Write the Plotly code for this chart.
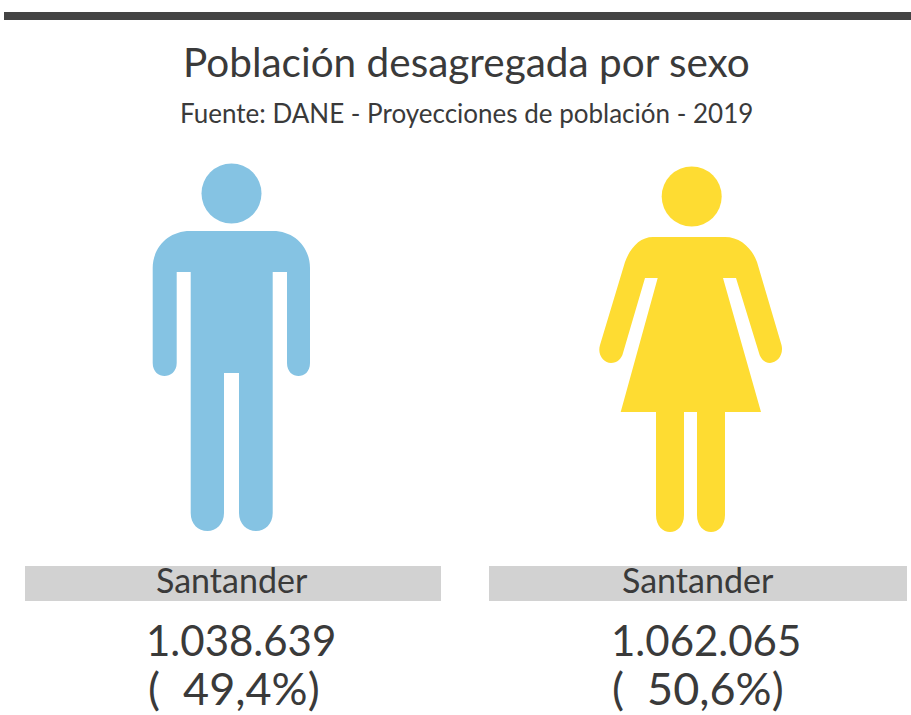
import plotly.graph_objects as go

# --- chart data ---
title = "Población desagregada por sexo"
subtitle = "Fuente: DANE - Proyecciones de población - 2019"
region = ["Santander", "Santander"]
population = [1038639, 1062065]
percent = [49.4, 50.6]

# --- styling ---
FONT = "Lato"
INK = "#3a3a3a"
BLUE = "#85c3e3"
YELLOW = "#fedc32"
GREY = "#d2d2d2"

man_path = (
    "M 190 231 L 273 231 C 295 231 310 248 310 268 L 310 363 "
    "C 310 372 304 376 298.5 376 C 293 376 287 372 287 363 L 287 272 L 272.7 272 "
    "L 272.7 513 C 272.7 524 265 531 256 531 C 247 531 239 524 239 513 L 239 373 L 224 373 "
    "L 224 513 C 224 524 216 531 207.5 531 C 198 531 190.7 524 190.7 513 L 190.7 272 "
    "L 176.7 272 L 176.7 363 C 176.7 372 170 376 164.5 376 C 159 376 152.7 372 152.7 363 "
    "L 152.7 268 C 152.7 248 168 231 190 231 Z"
)
woman_path = (
    "M 653 237 L 725 237 C 740 237 752 248 757 262 L 781.5 345 "
    "C 784 355 777 363 770 363 C 765 363 760.5 359 759 353 L 736 278 L 723 278 "
    "L 761 412 L 725 412 L 725 515 C 725 526 718 532 711 532 C 704 532 697 526 697 515 "
    "L 697 412 L 684 412 L 684 515 C 684 526 677 532 670 532 C 663 532 656 526 656 515 "
    "L 656 412 L 620.7 412 L 657.7 278 L 645 278 L 623 353 "
    "C 621.5 359 617 363 611 363 C 604 363 597 355 600 345 L 625 262 "
    "C 630 248 640 237 653 237 Z"
)

shapes = [
    dict(type="rect", x0=4, x1=911, y0=12, y1=20, fillcolor="#444444", line_width=0),
    dict(type="circle", x0=201.5, x1=261.5, y0=163.5, y1=223.5, fillcolor=BLUE, line_width=0),
    dict(type="path", path=man_path, fillcolor=BLUE, line_width=0),
    dict(type="circle", x0=661.7, x1=721.7, y0=166.5, y1=226.5, fillcolor=YELLOW, line_width=0),
    dict(type="path", path=woman_path, fillcolor=YELLOW, line_width=0),
    dict(type="rect", x0=25, x1=441, y0=566, y1=601, fillcolor=GREY, line_width=0),
    dict(type="rect", x0=489, x1=907, y0=566, y1=601, fillcolor=GREY, line_width=0),
]

def label(x, y, text, size):
    return dict(x=x, y=y, text=text, showarrow=False, xanchor="center", yanchor="middle",
                font=dict(family=FONT, size=size, color=INK))

fmt_pop = [f"{v:,}".replace(",", ".") for v in population]
fmt_pct = [f"(\u00a0\u00a0{p:.1f}%)".replace(".", ",") for p in percent]
centers = [232, 698]
number_x = [241, 706]
pct_x = [234, 698]

annotations = [
    label(466, 61.5, title, 40.5),
    label(466, 113, subtitle, 26),
]
for i in range(2):
    annotations.append(label(centers[i], 579, region[i], 34))
    annotations.append(label(number_x[i], 640, fmt_pop[i], 42))
    annotations.append(label(pct_x[i], 687.5, fmt_pct[i], 45))

fig = go.Figure()
fig.update_layout(
    width=911, height=715, autosize=False,
    margin=dict(l=0, r=0, t=0, b=0),
    paper_bgcolor="white", plot_bgcolor="white",
    xaxis=dict(range=[0, 911], visible=False, fixedrange=True),
    yaxis=dict(range=[715, 0], visible=False, fixedrange=True),
    shapes=shapes, annotations=annotations, showlegend=False,
)
fig.write_html(
    "out.html",
    config={"displayModeBar": False},
    post_script="document.body.style.margin='0';document.documentElement.style.overflow='hidden';",
)
